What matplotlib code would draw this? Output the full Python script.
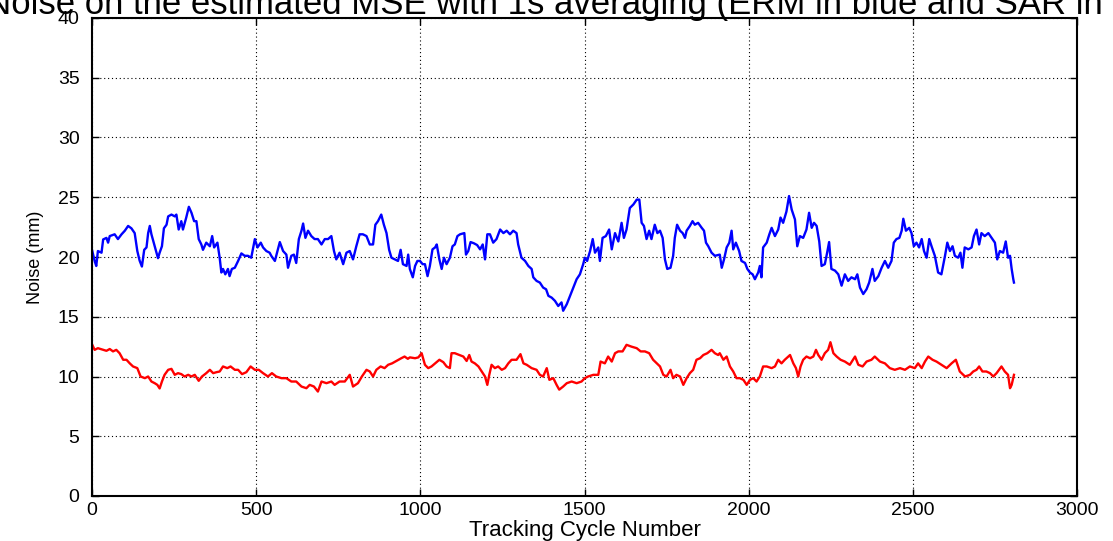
import matplotlib
matplotlib.use("Agg")
import matplotlib.pyplot as plt

# ---------------- data ----------------
erm_cycle = [0, 8, 13, 18, 29, 34, 44, 49, 54, 69, 79, 90, 100, 110, 120, 130, 138, 145, 152, 159,
             166, 171, 176, 181, 191, 201, 206, 213, 219, 227, 232, 242, 252, 257, 264, 272, 277, 287,
             295, 303, 311, 318, 325, 333, 338, 348, 359, 366, 372, 382, 389, 394, 399, 406, 414, 419,
             426, 435, 445, 455, 465, 475, 485, 496, 504, 514, 521, 531, 541, 546, 557, 565, 572, 582,
             592, 597, 607, 615, 622, 630, 638, 643, 650, 658, 668, 678, 688, 699, 709, 719, 729, 737,
             744, 754, 765, 775, 785, 795, 805, 815, 825, 836, 846, 856, 863, 871, 881, 889, 897, 905,
             912, 922, 932, 940, 947, 958,
             963, 968, 977, 984, 991, 999, 1007, 1014, 1022, 1029, 1037, 1045, 1050, 1058, 1065, 1072,
             1080, 1090, 1098, 1105, 1113, 1121, 1134, 1139, 1146, 1153, 1163, 1173, 1182, 1190, 1197,
             1204, 1212, 1222, 1232, 1243, 1253, 1263, 1273, 1283, 1293, 1298, 1308, 1319, 1329, 1339,
             1344, 1354, 1364, 1374, 1383, 1390, 1400, 1410, 1420, 1430, 1435, 1446, 1456, 1466, 1476,
             1486, 1496, 1501, 1508, 1517, 1525, 1532, 1542, 1547, 1555, 1565, 1575, 1583, 1593, 1603,
             1613, 1620, 1628, 1638, 1649, 1659, 1667, 1674, 1681, 1689, 1697, 1704, 1714, 1722, 1730,
             1738, 1745, 1752, 1762, 1770, 1775, 1782, 1791, 1799, 1806, 1811, 1821, 1829, 1836, 1846,
             1857, 1864, 1870, 1877, 1887, 1897, 1912,
             1918, 1925, 1933, 1941, 1948, 1953, 1961, 1971, 1978, 1989, 1996, 2004, 2012, 2019, 2029,
             2034, 2039, 2044, 2055, 2063, 2070, 2080, 2090, 2097, 2105, 2115, 2123, 2131, 2141, 2148,
             2156, 2166, 2176, 2184, 2192, 2199, 2207, 2215, 2222, 2232, 2239, 2245, 2252, 2263, 2273,
             2283, 2293, 2303, 2313, 2324, 2331, 2339, 2349, 2359, 2367, 2377, 2384, 2395, 2405, 2415,
             2425, 2435, 2442, 2450, 2459, 2466, 2471, 2479, 2489, 2496, 2503, 2511, 2519, 2527, 2534,
             2542, 2550, 2557, 2567, 2577, 2587, 2598, 2605, 2613, 2621, 2628, 2638, 2645, 2651, 2658,
             2669, 2679, 2686, 2694, 2702, 2709, 2719, 2730, 2740, 2750, 2757, 2765, 2775, 2783, 2790,
             2796, 2801, 2806, 2808]
erm_noise = [20.6, 19.67, 19.25, 20.5, 20.36, 21.47, 21.6, 21.2, 21.75, 21.9, 21.5, 21.9, 22.2, 22.6,
             22.4, 22.0, 20.5, 19.7, 19.2, 20.6, 20.8, 22.0, 22.6, 21.9, 20.9, 19.9, 20.36, 20.9, 22.4,
             22.7, 23.4, 23.55, 23.4, 23.55, 22.3, 23.0, 22.3, 23.3, 24.2, 23.7, 23.0, 23.0, 21.5, 21.05,
             20.6, 21.2, 20.9, 21.75, 20.8, 21.2, 19.9, 18.7, 19.0, 18.55, 19.0, 18.4, 19.0, 19.1, 19.67,
             20.3, 20.1, 20.1, 19.94, 21.5, 20.8, 21.2, 20.8, 20.5, 20.36, 20.1, 19.67, 20.5, 21.25, 20.5,
             20.2, 19.1, 20.1, 20.2, 19.5, 21.5, 22.2, 22.8, 21.6, 22.2, 21.75, 21.5, 21.5, 21.05, 21.5,
             21.5, 21.75, 20.5, 19.8, 20.36, 19.4, 20.36, 20.5, 19.8, 20.9, 21.9, 21.9, 21.75, 21.05,
             21.05, 22.7, 23.0, 23.55, 22.7, 22.0, 20.6, 19.94, 19.8, 19.67, 20.6, 19.4, 19.25,
             20.2, 19.0, 18.3, 19.25, 19.67, 19.67, 19.4, 19.4, 18.4, 19.25, 20.64, 20.8, 21.05, 19.8,
             19.0, 19.94, 19.4, 19.94, 20.9, 21.05, 21.75, 21.9, 22.0, 20.2, 20.5, 21.25, 21.15, 21.0,
             20.64, 21.05, 19.8, 21.9, 21.9, 21.2, 21.5, 22.3, 22.0, 22.2, 21.9, 22.2, 22.0, 21.05, 19.94,
             19.67, 19.25, 19.0, 18.3, 18.0, 17.86, 17.44, 17.3, 16.75, 16.6, 16.33, 15.9, 16.2, 15.5,
             16.05, 16.75, 17.44, 18.14, 18.55, 19.4, 19.94, 19.67, 20.5, 21.5, 20.36, 20.8, 19.67, 21.6,
             21.75, 22.3, 20.64, 22.0, 21.3, 22.86, 21.6, 22.3, 24.1, 24.4, 24.8, 24.8, 22.86, 22.6, 21.5,
             22.2, 21.5, 22.7, 22.0, 22.2, 21.6, 19.8, 19.0, 19.1, 20.1, 21.6, 22.7, 22.2, 22.0, 21.6,
             22.2, 22.6, 23.0, 22.7, 22.86, 22.44, 22.2, 21.2, 20.9, 20.36, 20.1, 20.2,
             19.1, 19.8, 20.8, 21.2, 22.2, 20.64, 21.2, 20.5, 19.67, 19.5, 19.0, 18.7, 18.55, 18.14, 18.7,
             19.25, 18.3, 20.8, 21.2, 21.9, 22.44, 21.75, 22.3, 23.3, 22.86, 23.8, 25.1, 23.97, 23.14,
             20.9, 21.75, 21.6, 22.3, 23.7, 22.44, 22.86, 22.6, 21.3, 19.25, 19.4, 20.36, 21.25, 19.0,
             18.86, 18.55, 17.6, 18.55, 18.0, 18.3, 18.14, 18.55, 17.44, 16.9, 17.3, 17.86, 19.0, 18.0,
             18.4, 19.1, 19.67, 19.1, 19.67, 21.2, 21.5, 21.6, 22.2, 23.2, 22.2, 22.44, 22.0, 20.9, 21.2,
             20.8, 21.5, 20.5, 19.94, 21.5, 20.9, 20.1, 18.7, 18.55, 20.1, 21.2, 20.5, 20.9, 20.1, 19.94,
             20.36, 19.1, 20.8, 20.64, 20.8, 21.75, 22.3, 21.05, 22.0, 21.75, 22.0, 21.6, 21.2, 19.8,
             20.5, 20.36, 21.3, 19.94, 20.1, 19.0, 18.14, 17.86]

sar_cycle = [0, 8, 18, 34, 44, 54, 64, 74, 84, 95, 105, 115, 125, 138, 148, 161, 171, 181, 191, 199,
             206, 213, 221, 232, 242, 252, 262, 272, 282, 293, 303, 313, 325, 335, 348, 359, 369, 379,
             389, 399, 412, 422, 435, 445, 457, 470, 483, 496, 508, 521, 536, 548, 561, 577, 592, 607,
             622, 638, 653, 663, 676, 688, 699, 714, 729, 739, 754, 770, 785, 795, 810, 822, 836, 846,
             856, 866, 879, 891, 902, 914, 927, 942, 952, 962,
             968, 984, 994, 1004, 1014, 1024, 1034, 1045, 1058, 1070, 1080, 1090, 1095, 1105, 1119,
             1131, 1141, 1149, 1156, 1166, 1177, 1187, 1197, 1204, 1210, 1217, 1227, 1237, 1248, 1258,
             1268, 1278, 1293, 1305, 1314, 1324, 1339, 1354, 1364, 1374, 1385, 1393, 1405, 1415, 1423,
             1435, 1446, 1461, 1476, 1491, 1501, 1511, 1527, 1542, 1549, 1562, 1572, 1583, 1593, 1603,
             1616, 1628, 1643, 1659, 1671, 1684, 1697, 1709, 1720, 1730, 1740, 1750, 1762, 1770, 1780,
             1791, 1801, 1811, 1821, 1831, 1841, 1852, 1862, 1874, 1887, 1897, 1907,
             1912, 1923, 1933, 1943, 1953, 1963, 1973, 1984, 1994, 2004, 2014, 2024, 2034, 2044, 2055,
             2070, 2080, 2090, 2100, 2110, 2126, 2136, 2144, 2151, 2158, 2166, 2176, 2187, 2197, 2205,
             2212, 2222, 2232, 2242, 2249, 2258, 2268, 2280, 2293, 2308, 2324, 2334, 2347, 2359, 2374,
             2384, 2400, 2415, 2430, 2445, 2461, 2476, 2491, 2506, 2516, 2527, 2537, 2547, 2560, 2572,
             2587, 2603, 2618, 2631, 2643, 2659, 2674, 2684, 2694, 2702, 2712, 2724, 2735, 2745, 2755,
             2770, 2780, 2790, 2796, 2801, 2808]
sar_noise = [12.7, 12.23, 12.37, 12.23, 12.15, 12.3, 12.1, 12.23, 11.95, 11.4, 11.4, 11.1, 10.84,
             10.7, 10.0, 9.86, 10.0, 9.58, 9.44, 9.3, 9.0, 9.58, 10.14, 10.56, 10.64, 10.14, 10.28, 10.2,
             10.0, 10.14, 10.0, 10.14, 9.64, 10.0, 10.28, 10.56, 10.28, 10.36, 10.42, 10.84, 10.7, 10.84,
             10.56, 10.56, 10.2, 10.36, 10.84, 10.56, 10.56, 10.28, 10.0, 10.28, 10.0, 9.86, 9.86, 9.58,
             9.58, 9.16, 9.02, 9.3, 9.16, 8.74, 9.58, 9.44, 9.58, 9.3, 9.58, 9.58, 10.14, 9.16, 9.44,
             10.0, 10.56, 10.42, 10.0, 10.56, 10.84, 10.7, 10.98, 11.1, 11.3, 11.53, 11.67, 11.48,
             11.6, 11.53, 11.6, 11.95, 10.98, 10.7, 10.84, 11.1, 11.4, 11.2, 10.84, 10.7, 11.95, 11.95,
             11.8, 11.67, 11.3, 11.8, 11.25, 11.1, 10.84, 10.42, 10.0, 9.3, 10.14, 10.98, 10.7, 10.84,
             10.56, 10.7, 11.1, 11.4, 11.4, 11.87, 11.1, 10.98, 10.7, 10.56, 10.14, 10.0, 10.7, 9.72,
             9.86, 9.3, 8.9, 9.16, 9.44, 9.58, 9.44, 9.58, 9.86, 10.0, 10.14, 10.14, 11.25, 11.1, 11.67,
             11.25, 11.95, 12.1, 12.1, 12.65, 12.5, 12.37, 12.1, 12.1, 11.95, 11.4, 11.1, 10.84, 10.14,
             10.0, 10.56, 9.86, 10.14, 10.0, 9.3, 9.86, 10.28, 10.56, 11.4, 11.53, 11.8, 11.95, 12.23,
             11.95, 11.8,
             11.95, 11.4, 11.67, 10.84, 10.42, 9.86, 9.86, 9.72, 9.3, 9.72, 9.86, 9.58, 10.0, 10.84,
             10.84, 10.7, 10.84, 11.4, 11.1, 11.4, 11.8, 11.1, 10.7, 10.0, 10.84, 11.4, 11.67, 11.53,
             11.67, 12.23, 11.8, 11.4, 11.95, 12.23, 12.87, 11.95, 11.67, 11.4, 11.25, 10.98, 11.67,
             10.98, 10.84, 11.25, 11.4, 11.67, 11.25, 11.1, 10.7, 10.56, 10.7, 10.56, 10.84, 10.7, 11.1,
             10.7, 11.25, 11.67, 11.4, 11.25, 10.98, 10.7, 11.1, 11.4, 10.42, 10.0, 10.14, 10.42, 10.56,
             10.84, 10.42, 10.42, 10.28, 10.0, 10.28, 10.84, 10.42, 10.14, 9.02, 9.3, 10.14]

x_ticks = [0, 500, 1000, 1500, 2000, 2500, 3000]
y_ticks = [0, 5, 10, 15, 20, 25, 30, 35, 40]
title_text = "Noise on the estimated MSE with 1s averaging (ERM in blue and SAR in red)"
x_label = "Tracking Cycle Number"
y_label = "Noise (mm)"

FONT = "Liberation Sans"

# ---------------- figure ----------------
fig = plt.figure(figsize=(11.13, 5.41), dpi=100)
ax = fig.add_axes([92 / 1113, 45 / 541, 985 / 1113, 478 / 541])

ax.plot(erm_cycle, erm_noise, color=(0, 0, 1), lw=1.7)
ax.plot(sar_cycle, sar_noise, color=(1, 0, 0), lw=1.7)

ax.set_xlim(0, 3000)
ax.set_ylim(0, 40)
ax.set_xticks(x_ticks)
ax.set_yticks(y_ticks)
ax.grid(True, color="black", linestyle=(0, (1, 2.5)), linewidth=0.8)
ax.tick_params(direction="in", length=5, width=1, top=True, right=True,
               labelsize=14)
ax.tick_params(axis="y", pad=9)
ax.tick_params(axis="x", pad=4)
for lab in ax.get_xticklabels() + ax.get_yticklabels():
    lab.set_family(FONT)
for s in ax.spines.values():
    s.set_linewidth(1.5)

ax.set_xlabel(x_label, fontsize=16, family=FONT, labelpad=1)
ax.set_ylabel(y_label, fontsize=13, family=FONT, labelpad=10)

fig.text((92 + 1077) / 2 / 1113 - 0.004, (541 - 14) / 541, title_text, ha="center",
         va="baseline", fontsize=25, family=FONT)

fig.savefig("out.png", dpi=100)
